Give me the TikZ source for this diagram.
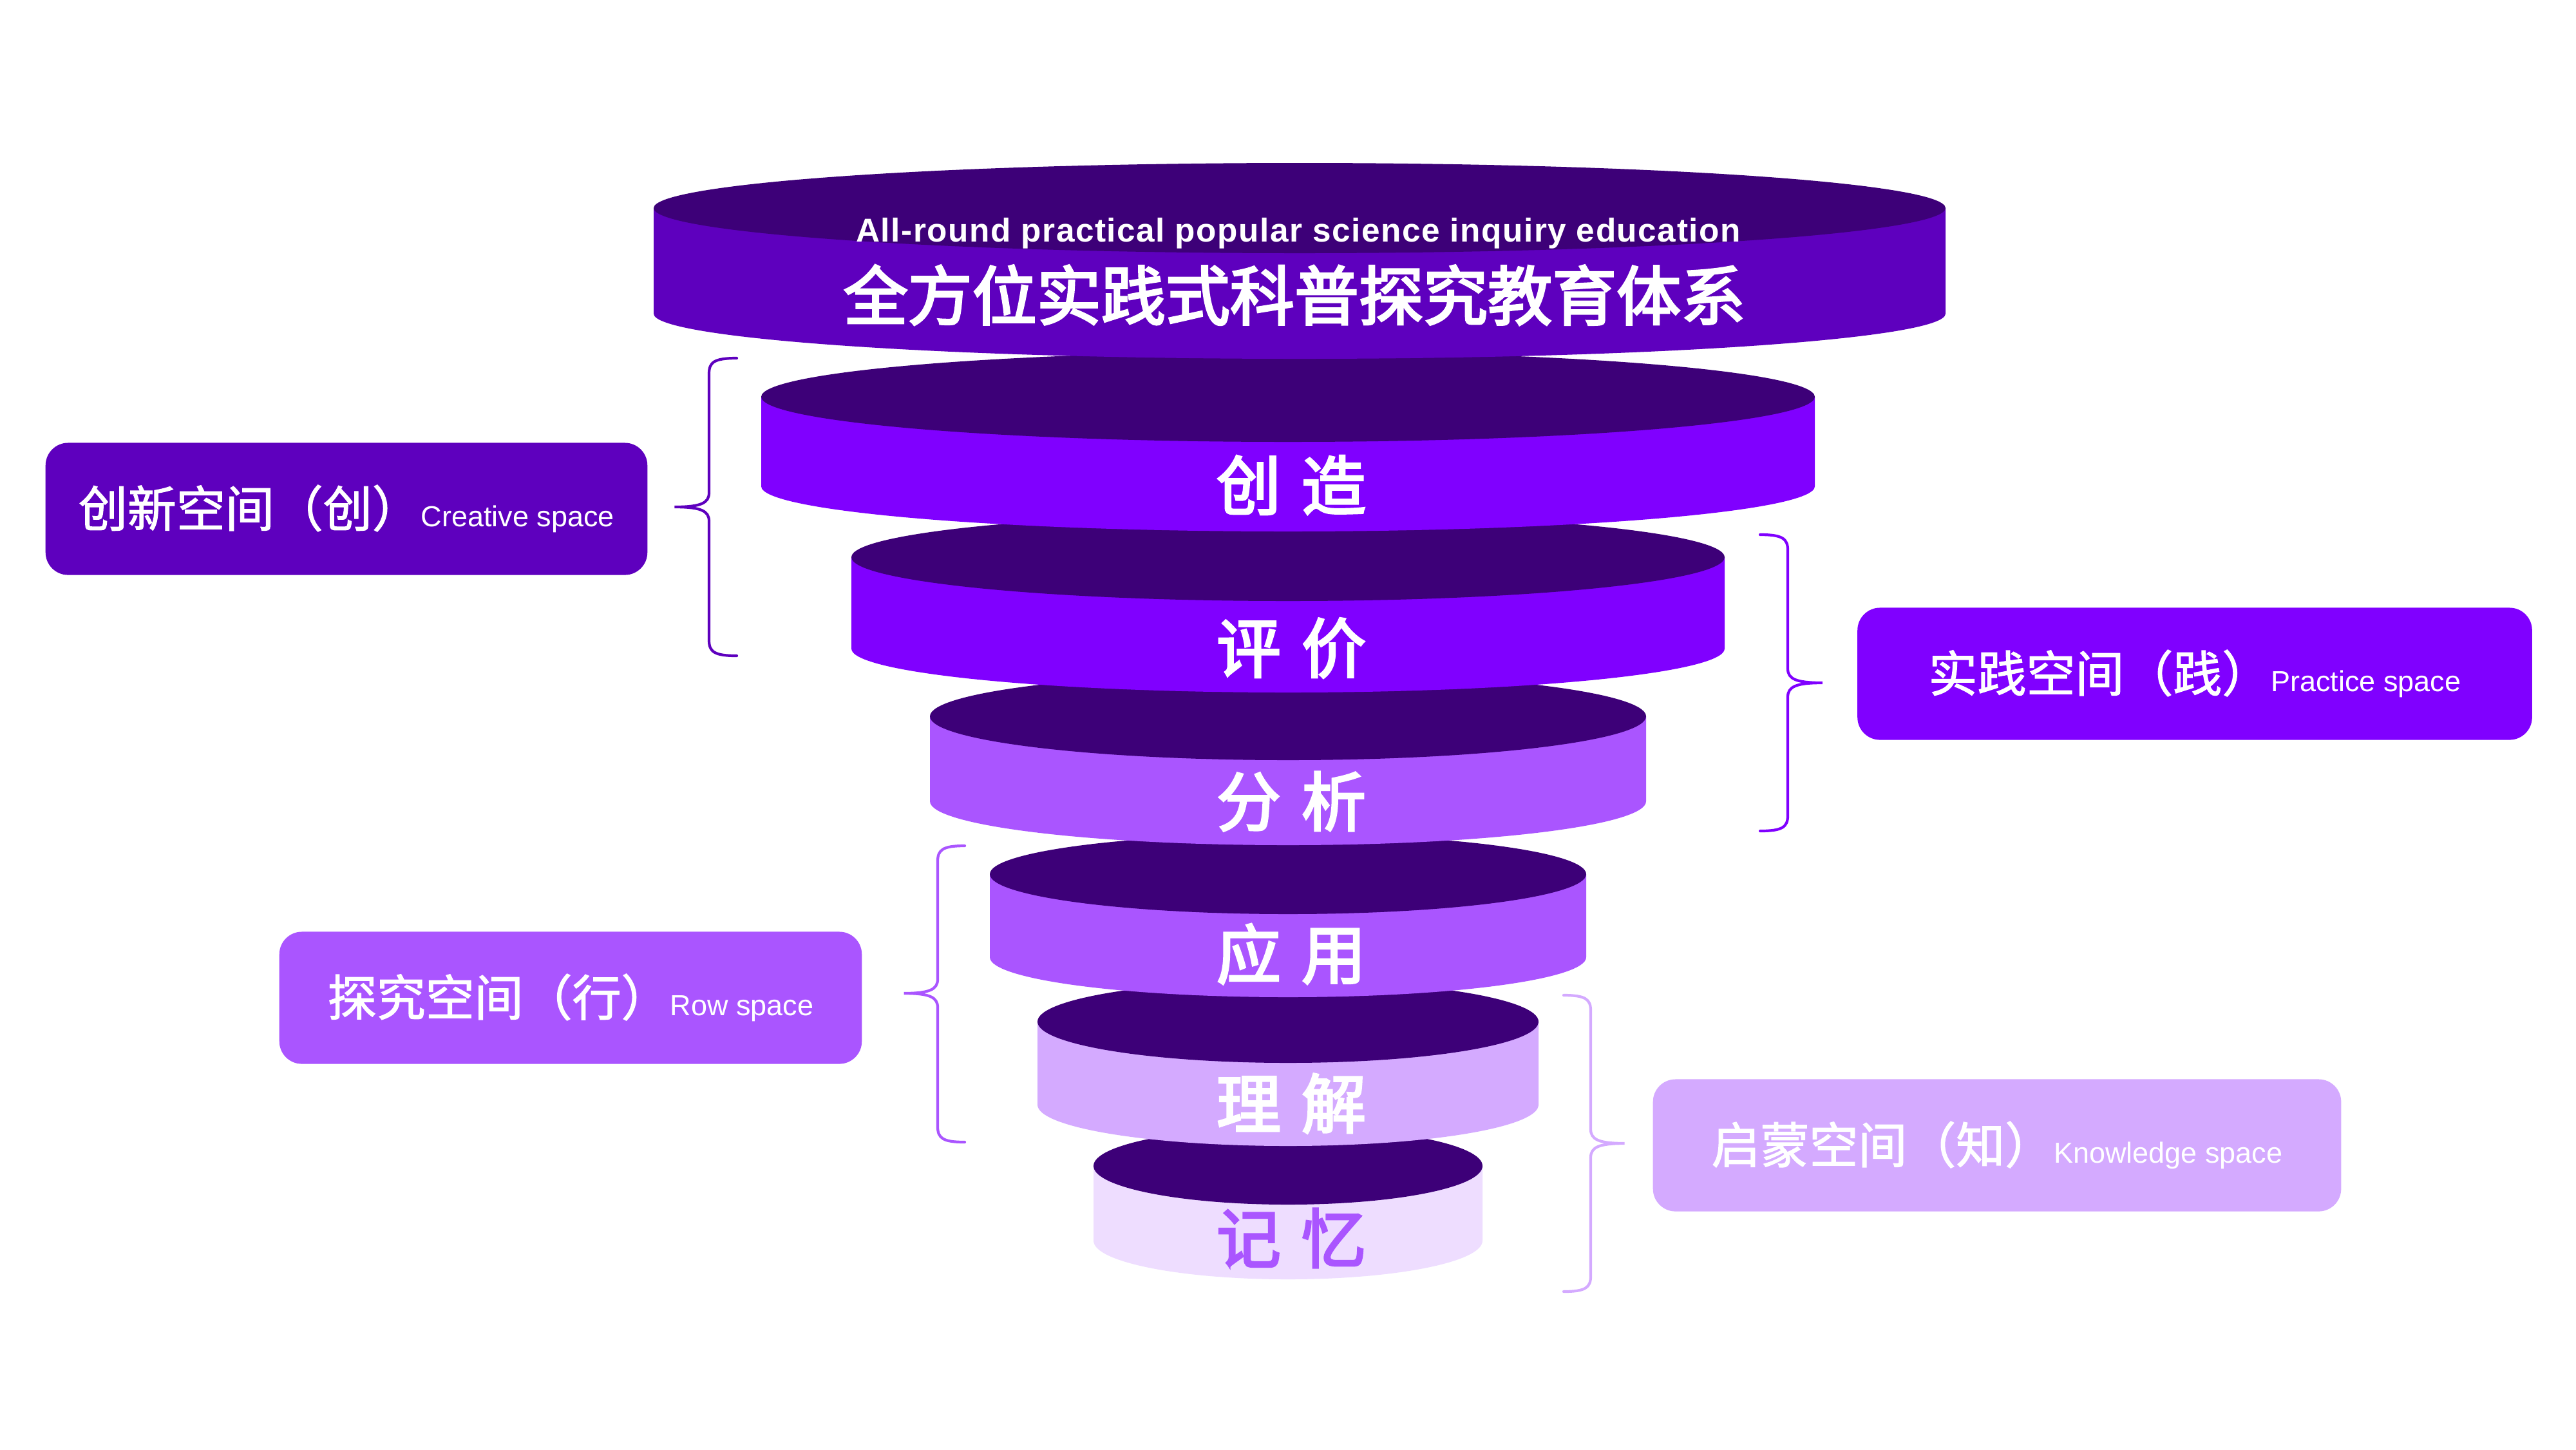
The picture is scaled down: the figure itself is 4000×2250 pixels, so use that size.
\documentclass[tikz,border=0pt]{standalone}
\usepackage{fontspec}
\setmainfont{Liberation Sans}
\newfontfamily\cjk{Noto Sans CJK SC}[FakeBold=1.6]
\newfontfamily\cjkheavy{Noto Sans CJK SC}[FakeBold=3.2]
\usetikzlibrary{positioning}

\definecolor{topface}{HTML}{3D0078}
\definecolor{deepviolet}{HTML}{5E00BE}
\definecolor{brightviolet}{HTML}{8000FF}
\definecolor{midviolet}{HTML}{AA55FF}
\definecolor{paleviolet}{HTML}{D4AAFF}
\definecolor{mistviolet}{HTML}{EEDDFF}

% one layer of the funnel: centre x, half width, top y, bottom y, y radius, side colour
\newcommand{\drawdisk}[6]{%
  \fill[#6] (#1-#2,-#4) arc[start angle=180, end angle=360, x radius=#2, y radius=#5]
    -- (#1+#2,-#3) -- (#1-#2,-#3) -- cycle;
  \fill[topface] (#1,-#3) ellipse[x radius=#2, y radius=#5];
}

% curly brace: line x, top y, middle y, bottom y, signed hook length, colour
\newcommand{\spacebrace}[6]{%
  \draw[braceline, #6] ({#1+(#5)},-#2) .. controls ({#1+0.2*(#5)},-#2) and (#1,{-#2-6}) .. (#1,{-#2-24})
    -- (#1,{-#3+22}) .. controls (#1,{-#3+6}) and ({#1-0.3*(#5)},-#3) .. ({#1-1.25*(#5)},-#3)
    .. controls ({#1-0.3*(#5)},-#3) and (#1,{-#3-6}) .. (#1,{-#3-22})
    -- (#1,{-#4+24}) .. controls (#1,{-#4+6}) and ({#1+0.2*(#5)},-#4) .. ({#1+(#5)},-#4);
}

\newcommand{\entag}[1]{{\normalfont\fontsize{12.8pt}{15pt}\selectfont #1}}

\tikzset{
    disklabel/.style={
        text=white,
        inner sep=0pt,
        font=\cjkheavy\fontsize{28.45pt}{34pt}\selectfont
    },
    titletext/.style={
        text=white,
        inner sep=0pt,
        font=\cjkheavy\fontsize{28.45pt}{34pt}\selectfont
    },
    subtitletext/.style={
        text=white,
        inner sep=0pt,
        font=\bfseries\fontsize{14.6pt}{18pt}\selectfont\addfontfeatures{LetterSpace=3}
    },
    spacebox/.style={
        rounded corners=0.35cm,
        minimum height=2.05cm,
        inner sep=0pt,
        text=white,
        font=\cjk\fontsize{21.6pt}{26pt}\selectfont
    },
    braceline/.style={
        line width=1.2pt,
        line cap=round
    }
}

\begin{document}
\begin{tikzpicture}[x=0.01cm, y=0.01cm]
    \fill[white] (0,0) rectangle (4000,-2250);

    % funnel, drawn from the bottom layer up
    \drawdisk{2000}{302}{1810}{1926}{60}{mistviolet}
    \drawdisk{2000}{389}{1586}{1715}{64}{paleviolet}
    \drawdisk{2000}{463}{1357}{1486}{62}{midviolet}
    \drawdisk{2000}{556}{1112}{1244}{68}{midviolet}
    \drawdisk{2000}{678}{865}{1007}{68}{brightviolet}
    \drawdisk{2000}{818}{616}{755}{70}{brightviolet}
    \drawdisk{2018}{1003}{323}{487}{70}{deepviolet}

    \node[subtitletext, anchor=base] (subtitle) at (2016,-375) {All-round practical popular science inquiry education};
    \node[titletext] (title) at (2010,-458) {全方位实践式科普探究教育体系};

    \node[disklabel] (create) at (2005,-753) {创\hspace{0.32em}造};
    \node[disklabel] (evaluate) at (2005,-1006) {评\hspace{0.32em}价};
    \node[disklabel] (analyse) at (2005,-1244) {分\hspace{0.32em}析};
    \node[disklabel] (apply) at (2005,-1481) {应\hspace{0.32em}用};
    \node[disklabel] (understand) at (2005,-1713) {理\hspace{0.32em}解};
    \node[disklabel, text=midviolet] (remember) at (2005,-1922) {记\hspace{0.32em}忆};

    % side boxes
    \node[spacebox, fill=deepviolet, minimum width=9.34cm] (creative) at (538,-790)
        {创新空间（创）\entag{Creative space}};
    \node[spacebox, fill=brightviolet, minimum width=10.47cm] (practice) at (3408,-1046)
        {实践空间（践）\entag{Practice space}};
    \node[spacebox, fill=midviolet, minimum width=9.04cm] (row) at (886,-1549)
        {探究空间（行）\entag{Row space}};
    \node[spacebox, fill=paleviolet, minimum width=10.68cm] (knowledge) at (3101,-1778)
        {启蒙空间（知）\entag{Knowledge space}};

    % braces
    \spacebrace{1101}{556}{787}{1018}{43}{deepviolet}
    \spacebrace{2776}{830}{1060}{1290}{-43}{brightviolet}
    \spacebrace{1456}{1313}{1542}{1773}{42}{midviolet}
    \spacebrace{2470}{1545}{1775}{2005}{-42}{paleviolet}
\end{tikzpicture}
\end{document}
